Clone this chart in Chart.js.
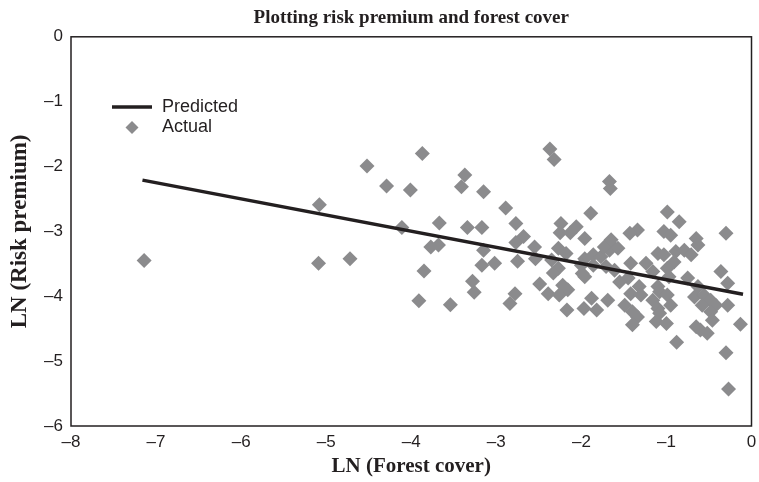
<!DOCTYPE html>
<html>
<head>
<meta charset="utf-8">
<script src="https://cdn.jsdelivr.net/npm/chart.js@4/dist/chart.umd.min.js"></script>
<style>
  html, body { margin: 0; padding: 0; background: #fff; }
  #wrap { width: 759px; height: 482px; }
</style>
</head>
<body>
<div id="wrap"><canvas id="chart1" width="759" height="482"></canvas></div>
<script>
// LN (Forest cover) -> LN (Risk premium)
const forestCover = [
    -7.14, -5.08, -5.09, -4.72,
    -3.87, -4.52, -4.29, -4.01, -3.37, -3.41, -3.15, -4.11, -3.67, -3.34, -3.17, -3.77, -3.68,
    -3.15, -3.17, -3.02, -3.85, -3.28, -3.26, -3.91, -3.54,
    -2.37, -2.32, -1.67, -1.66, -2.89, -1.89, -2.77, -2.24, -2.06, -2.25, -2.13, -2.68, -2.77,
    -1.96, -1.67, -2.55, -2.27, -2.54, -2.35, -2.18, -2.27, -1.96, -1.86, -1.77, -2.00, -1.86,
    -1.67, -1.61, -2.75, -2.33, -1.99, -1.96, -2.49, -2.39, -2.22, -2.16, -2.26, -2.78, -2.84,
    -2.17, -1.97, -1.88, -1.82, -1.69,
    -0.99, -0.85, -0.30, -1.34, -1.43, -1.03, -0.95, -0.65, -0.63, -1.65, -1.73, -1.57, -1.10,
    -1.03, -0.89, -0.79, -0.71, -0.91, -1.42, -1.24, -1.71, -0.99, -1.16, -0.36, -1.45, -1.55,
    -0.97, -0.75, -0.28, -1.32, -1.10, -0.63, -1.42, -1.30, -1.08, -0.99, -0.67, -0.56, -0.48,
    -1.49, -1.16, -0.95, -0.58, -0.42, -0.28, -1.40, -1.10, -0.48, -1.34, -1.08, -0.46, -1.40,
    -1.12, -1.00, -0.13, -0.65, -0.52, -0.60, -0.88, -0.30, -0.27
];
const riskPremium = [
    -3.45, -2.59, -3.49, -3.42,
    -1.80, -1.99, -2.30, -2.36, -2.13, -2.31, -2.39, -2.94, -2.87, -2.94, -2.94, -3.24, -3.21,
    -3.29, -3.52, -3.49, -3.61, -3.77, -3.94, -4.07, -4.13,
    -1.73, -1.89, -2.23, -2.34, -2.64, -2.72, -2.88, -2.88, -2.93, -3.02, -3.02, -3.08, -3.17,
    -3.11, -3.18, -3.24, -3.26, -3.42, -3.44, -3.34, -3.57, -3.42, -3.36, -3.39, -3.52, -3.52,
    -3.29, -3.60, -3.46, -3.64, -3.65, -3.70, -3.81, -3.96, -3.83, -3.90, -3.98, -3.96, -4.11,
    -4.21, -4.19, -4.03, -4.21, -4.06,
    -2.70, -2.85, -3.03, -2.98, -3.03, -3.00, -3.06, -3.11, -3.21, -3.13, -3.24, -3.26, -3.34,
    -3.36, -3.31, -3.29, -3.36, -3.47, -3.49, -3.49, -3.54, -3.57, -3.62, -3.62, -3.72, -3.78,
    -3.70, -3.72, -3.80, -3.85, -3.85, -3.85, -3.96, -3.98, -3.93, -3.98, -4.01, -3.98, -4.06,
    -4.14, -4.06, -4.14, -4.14, -4.14, -4.14, -4.24, -4.19, -4.24, -4.32, -4.26, -4.37, -4.44,
    -4.39, -4.42, -4.43, -4.47, -4.57, -4.52, -4.71, -4.87, -5.43
];

// fitted line end points
const predictedX = [-7.16, -0.10];
const predictedY = [-2.21, -3.97];

const lineColor = '#231f20';
const dotColor = '#8b8b8d';

function minus(v) {
    return v < 0 ? '\u2013' + Math.abs(v) : String(v);
}

// frame round the plot + legend in the upper left
const framePlugin = {
    id: 'frame',
    afterDraw(chart) {
        const ctx = chart.ctx;
        const a = chart.chartArea;
        ctx.save();
        ctx.strokeStyle = lineColor;
        ctx.lineWidth = 1.5;
        ctx.strokeRect(a.left, a.top, a.right - a.left, a.bottom - a.top);

        ctx.strokeStyle = lineColor;
        ctx.lineWidth = 3.5;
        ctx.beginPath();
        ctx.moveTo(112, 107);
        ctx.lineTo(152, 107);
        ctx.stroke();

        ctx.fillStyle = dotColor;
        ctx.beginPath();
        ctx.moveTo(132, 121);
        ctx.lineTo(138.5, 127.5);
        ctx.lineTo(132, 134);
        ctx.lineTo(125.5, 127.5);
        ctx.closePath();
        ctx.fill();

        ctx.fillStyle = lineColor;
        ctx.font = '18px "Liberation Sans", Arial, sans-serif';
        ctx.textBaseline = 'middle';
        ctx.fillText('Predicted', 162, 107);
        ctx.fillText('Actual', 162, 127);
        ctx.restore();
    }
};

const points = forestCover.map((x, i) => ({ x: x, y: riskPremium[i] }));
const line = predictedX.map((x, i) => ({ x: x, y: predictedY[i] }));

new Chart(document.getElementById('chart1'), {
    type: 'scatter',
    data: {
        datasets: [
            {
                label: 'Predicted',
                type: 'line',
                data: line,
                borderColor: lineColor,
                borderWidth: 3.5,
                pointRadius: 0,
                fill: false,
                order: 0,
            },
            {
                label: 'Actual',
                data: points,
                pointStyle: 'rectRot',
                pointRadius: 7.5,
                pointBackgroundColor: dotColor,
                pointBorderWidth: 0,
                order: 1,
            },
        ],
    },

    options: {
        responsive: false,
        animation: false,
        layout: {
            padding: { left: 0, right: -2, top: 0, bottom: 0 },
        },
        plugins: {
            legend: { display: false },
            tooltip: { enabled: false },
            title: {
                display: true,
                text: 'Plotting risk premium and forest cover',
                fullSize: false,
                color: lineColor,
                font: { family: '"Liberation Serif", "Times New Roman", serif', size: 19, weight: 'bold' },
                padding: { top: 7, bottom: 7 },
            },
        },
        scales: {
            x: {
                type: 'linear',
                min: -8,
                max: 0,
                grid: { display: false, drawTicks: false },
                border: { display: false },
                ticks: {
                    stepSize: 1,
                    padding: 6,
                    color: lineColor,
                    font: { family: '"Liberation Sans", Arial, sans-serif', size: 17 },
                    callback: (v) => minus(v),
                },
                title: {
                    display: true,
                    text: 'LN (Forest cover)',
                    color: lineColor,
                    font: { family: '"Liberation Serif", "Times New Roman", serif', size: 21, weight: 'bold' },
                    padding: { top: 4, bottom: 3 },
                },
                afterFit(scale) {
                    scale.height = 56;
                    scale.paddingRight = 0;
                },
            },
            y: {
                type: 'linear',
                min: -6,
                max: 0,
                grid: { display: false, drawTicks: false },
                border: { display: false },
                ticks: {
                    stepSize: 1,
                    padding: 8,
                    color: lineColor,
                    font: { family: '"Liberation Sans", Arial, sans-serif', size: 17 },
                    callback: (v) => minus(v),
                },
                title: {
                    display: true,
                    text: 'LN (Risk premium)',
                    color: lineColor,
                    font: { family: '"Liberation Serif", "Times New Roman", serif', size: 23, weight: 'bold' },
                    padding: { top: 6, bottom: 0 },
                },
                afterFit(scale) { scale.width = 71; },
            },
        },
    },
    plugins: [framePlugin],
});
</script>
</body>
</html>
